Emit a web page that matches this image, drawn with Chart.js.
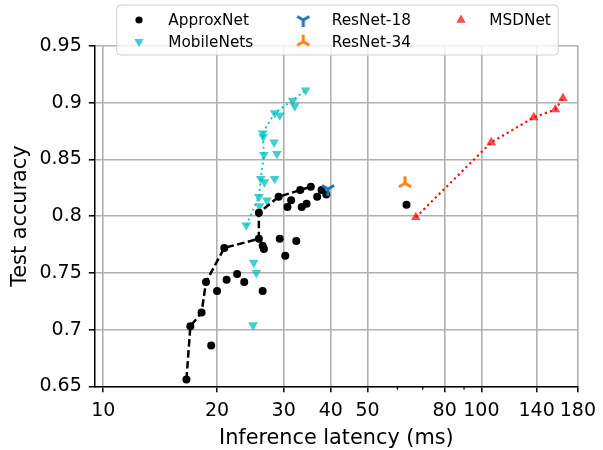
<!DOCTYPE html>
<html><head><meta charset="utf-8">
<script src="https://cdn.jsdelivr.net/npm/chart.js@4.4.1/dist/chart.umd.min.js"></script>
<style>html,body{margin:0;padding:0;background:#fff}#wrap{width:603px;height:450px;position:relative}</style>
</head><body><div id="wrap"><canvas id="c" width="603" height="450"></canvas></div>
<script>
// ---------- data ----------
const xTicks = [10, 20, 30, 40, 50, 80, 100, 140, 180];
const xTickLabels = ['10', '20', '30', '40', '50', '80', '100', '140', '180'];
const xMinorTicks = [60, 70, 90];
const yTicks = [0.65, 0.7, 0.75, 0.8, 0.85, 0.9, 0.95];
const yTickLabels = ['0.65', '0.7', '0.75', '0.8', '0.85', '0.9', '0.95'];

const approxLatency = [16.6, 17.0, 18.2, 18.7, 19.3, 20.0, 20.9, 21.2, 22.6, 23.6, 26.4, 25.8, 26.4, 26.6, 25.8, 29.3, 30.3, 32.4, 29.1, 30.7, 31.4, 33.2, 33.5, 34.5, 35.4, 36.8, 37.8, 38.9, 63.4];
const approxAccuracy = [0.656, 0.703, 0.715, 0.742, 0.686, 0.734, 0.772, 0.744, 0.749, 0.742, 0.734, 0.780, 0.774, 0.771, 0.803, 0.780, 0.765, 0.778, 0.817, 0.808, 0.814, 0.823, 0.808, 0.811, 0.826, 0.817, 0.823, 0.819, 0.810];
const approxFrontLatency = [16.6, 17.0, 18.2, 18.7, 20.9, 25.8, 25.8, 29.1, 33.2, 35.4];
const approxFrontAccuracy = [0.656, 0.703, 0.715, 0.742, 0.772, 0.780, 0.803, 0.817, 0.823, 0.826];

const mobileLatency = [34.3, 31.7, 32.1, 28.4, 29.3, 26.4, 26.5, 28.3, 26.6, 28.8, 26.1, 26.7, 28.4, 25.8, 25.9, 27.1, 23.9, 25.0, 25.4, 24.9];
const mobileAccuracy = [0.911, 0.902, 0.897, 0.891, 0.889, 0.873, 0.870, 0.865, 0.854, 0.855, 0.833, 0.830, 0.833, 0.817, 0.809, 0.814, 0.792, 0.759, 0.750, 0.704];
const mobileFrontLatency = [23.9, 25.8, 26.1, 26.6, 26.4, 28.4, 31.7, 34.3];
const mobileFrontAccuracy = [0.792, 0.817, 0.833, 0.854, 0.873, 0.891, 0.902, 0.911];

const resnet18Latency = [39.3];
const resnet18Accuracy = [0.824];
const resnet34Latency = [62.8];
const resnet34Accuracy = [0.829];

const msdLatency = [67.1, 106.2, 137.6, 156.9, 164.4];
const msdAccuracy = [0.799, 0.865, 0.887, 0.894, 0.904];

const legendLabels = ['ApproxNet', 'MobileNets', 'ResNet-18', 'ResNet-34', 'MSDNet'];

// ---------- helpers ----------
const pts = (xs, ys) => xs.map((x, i) => ({x: x, y: ys[i]}));
const CYAN = 'rgba(0,191,191,0.75)';
const RED = 'rgba(255,0,0,0.7)';
const BLUE = '#1f77b4';
const ORANGE = '#ff7f0e';

function triCanvas(color, up) {
  const s = 20, c = document.createElement('canvas');
  c.width = s; c.height = s;
  const g = c.getContext('2d');
  g.strokeStyle = color; g.lineWidth = 3; g.lineCap = 'butt';
  const r = 7, cx = s / 2, cy = s / 2;
  const angles = up ? [-90, 30, 150] : [90, 210, 330];
  g.beginPath();
  angles.forEach(a => { const t = a * Math.PI / 180; g.moveTo(cx, cy); g.lineTo(cx + r * Math.cos(t), cy + r * Math.sin(t)); });
  g.stroke();
  return c;
}
const triDown = triCanvas(BLUE, false);
const triUp = triCanvas(ORANGE, true);

Chart.defaults.font.family = "'DejaVu Sans', sans-serif";
Chart.defaults.color = '#000';

const minorTicksPlugin = {
  id: 'minorTicks',
  afterDraw(chart) {
    const xs = chart.scales.x, c = chart.ctx;
    c.save(); c.strokeStyle = '#000'; c.lineWidth = 1.2;
    xMinorTicks.forEach(v => {
      const px = xs.getPixelForValue(v);
      c.beginPath(); c.moveTo(px, xs.top); c.lineTo(px, xs.top + 3.5); c.stroke();
    });
    c.restore();
  }
};

function triPath(c, x, y, r, rotDeg) {
  let rad = rotDeg * Math.PI / 180;
  c.beginPath();
  for (let k = 0; k < 3; k++) {
    const px = x + Math.sin(rad) * r, py = y - Math.cos(rad) * r;
    if (k === 0) c.moveTo(px, py); else c.lineTo(px, py);
    rad += 2 * Math.PI / 3;
  }
  c.closePath();
}

const legendPlugin = {
  id: 'customLegend',
  afterDraw(chart) {
    const c = chart.ctx;
    c.save();
    const x0 = 116.7, y0 = 5, w = 441.6, h = 50, rr = 4;
    c.beginPath();
    c.moveTo(x0 + rr, y0);
    c.arcTo(x0 + w, y0, x0 + w, y0 + h, rr);
    c.arcTo(x0 + w, y0 + h, x0, y0 + h, rr);
    c.arcTo(x0, y0 + h, x0, y0, rr);
    c.arcTo(x0, y0, x0 + w, y0, rr);
    c.closePath();
    c.fillStyle = 'rgba(255,255,255,0.8)';
    c.fill();
    c.strokeStyle = '#d0d0d0'; c.lineWidth = 1; c.stroke();

    const cols = [{mx: 139, tx: 168.3}, {mx: 303.3, tx: 331.7}, {mx: 461, tx: 489.3}];
    const rows = [{my: 20, ty: 25}, {my: 41.7, ty: 46.7}];
    const items = [
      {label: legendLabels[0], col: 0, row: 0, kind: 'dot'},
      {label: legendLabels[1], col: 0, row: 1, kind: 'tdown'},
      {label: legendLabels[2], col: 1, row: 0, kind: 'y18'},
      {label: legendLabels[3], col: 1, row: 1, kind: 'y34'},
      {label: legendLabels[4], col: 2, row: 0, kind: 'tup'}
    ];
    c.font = "15.3px 'DejaVu Sans', sans-serif";
    c.textBaseline = 'alphabetic'; c.textAlign = 'left';
    items.forEach(it => {
      const mx = cols[it.col].mx, my = rows[it.row].my;
      if (it.kind === 'dot') { c.fillStyle = '#000'; c.beginPath(); c.arc(mx, my, 3.6, 0, 2 * Math.PI); c.fill(); }
      else if (it.kind === 'tdown') { c.fillStyle = CYAN; triPath(c, mx, my, 5.4, 180); c.fill(); }
      else if (it.kind === 'tup') { c.fillStyle = RED; triPath(c, mx, my, 5.4, 0); c.fill(); }
      else if (it.kind === 'y18') { c.drawImage(triDown, mx - 10, my - 10); }
      else if (it.kind === 'y34') { c.drawImage(triUp, mx - 10, my - 10); }
      c.fillStyle = '#000';
      c.fillText(it.label, cols[it.col].tx, rows[it.row].ty);
    });
    c.restore();
  }
};

new Chart(document.getElementById('c'), {
  type: 'scatter',
  data: {
    datasets: [
      {label: 'MSDNet', data: pts(msdLatency, msdAccuracy), pointStyle: 'triangle', pointRadius: 5.6, backgroundColor: RED, borderWidth: 0, order: 1},
      {label: 'MSDNet front', data: pts(msdLatency, msdAccuracy), showLine: true, pointRadius: 0, borderColor: 'rgba(255,0,0,0.95)', borderWidth: 2.2, borderDash: [2.2, 3.2], borderCapStyle: 'butt', order: 2},
      {label: 'ResNet-34', data: pts(resnet34Latency, resnet34Accuracy), pointStyle: triUp, pointRadius: 7, order: 3},
      {label: 'ResNet-18', data: pts(resnet18Latency, resnet18Accuracy), pointStyle: triDown, pointRadius: 7, order: 4},
      {label: 'ApproxNet front', data: pts(approxFrontLatency, approxFrontAccuracy), showLine: true, pointRadius: 0, borderColor: '#000', borderWidth: 2.5, borderDash: [7.5, 3.5], borderCapStyle: 'butt', order: 5},
      {label: 'ApproxNet', data: pts(approxLatency, approxAccuracy), pointStyle: 'circle', pointRadius: 4, backgroundColor: '#000', borderWidth: 0, order: 6},
      {label: 'MobileNets', data: pts(mobileLatency, mobileAccuracy), pointStyle: 'triangle', rotation: 180, pointRadius: 5.6, backgroundColor: CYAN, borderWidth: 0, order: 7},
      {label: 'MobileNets front', data: pts(mobileFrontLatency, mobileFrontAccuracy), showLine: true, pointRadius: 0, borderColor: 'rgba(0,191,191,0.9)', borderWidth: 2, borderDash: [2, 3.3], borderCapStyle: 'butt', order: 8}
    ]
  },
  options: {
    responsive: false, animation: false, devicePixelRatio: 1,
    layout: {padding: {left: 0, right: 21.3, top: 46, bottom: 0}},
    plugins: {legend: {display: false}, tooltip: {enabled: false}},
    scales: {
      x: {
        type: 'logarithmic', min: 9.5, max: 180,
        afterBuildTicks: s => { s.ticks = xTicks.map(v => ({value: v})); },
        afterFit: s => { s.height = 63.7; },
        ticks: {autoSkip: false, maxRotation: 0, minRotation: 0, padding: 7, color: '#000', font: {size: 19},
          callback: v => { const i = xTicks.indexOf(v); return i >= 0 ? xTickLabels[i] : ''; }},
        grid: {color: '#b0b0b0', lineWidth: 1.6, tickColor: '#000', tickLength: 6, tickWidth: 1.5},
        border: {color: '#000', width: 1.5},
        title: {display: true, text: 'Inference latency (ms)', color: '#000', font: {size: 20.8, lineHeight: 1}, padding: {top: 0, bottom: 0.5}}
      },
      y: {
        type: 'linear', min: 0.65, max: 0.95,
        afterBuildTicks: s => { s.ticks = yTicks.map(v => ({value: v})); },
        afterFit: s => { s.width = 94.8; },
        ticks: {padding: 7, color: '#000', font: {size: 19},
          callback: v => { const i = yTicks.findIndex(t => Math.abs(t - v) < 1e-9); return i >= 0 ? yTickLabels[i] : ''; }},
        grid: {color: '#b0b0b0', lineWidth: 1.6, tickColor: '#000', tickLength: 6, tickWidth: 1.5},
        border: {color: '#000', width: 1.5},
        title: {display: true, text: 'Test accuracy', color: '#000', font: {size: 20.8, lineHeight: 1}, padding: {top: 10, bottom: 0}}
      }
    }
  },
  plugins: [minorTicksPlugin, legendPlugin]
});
</script></body></html>
